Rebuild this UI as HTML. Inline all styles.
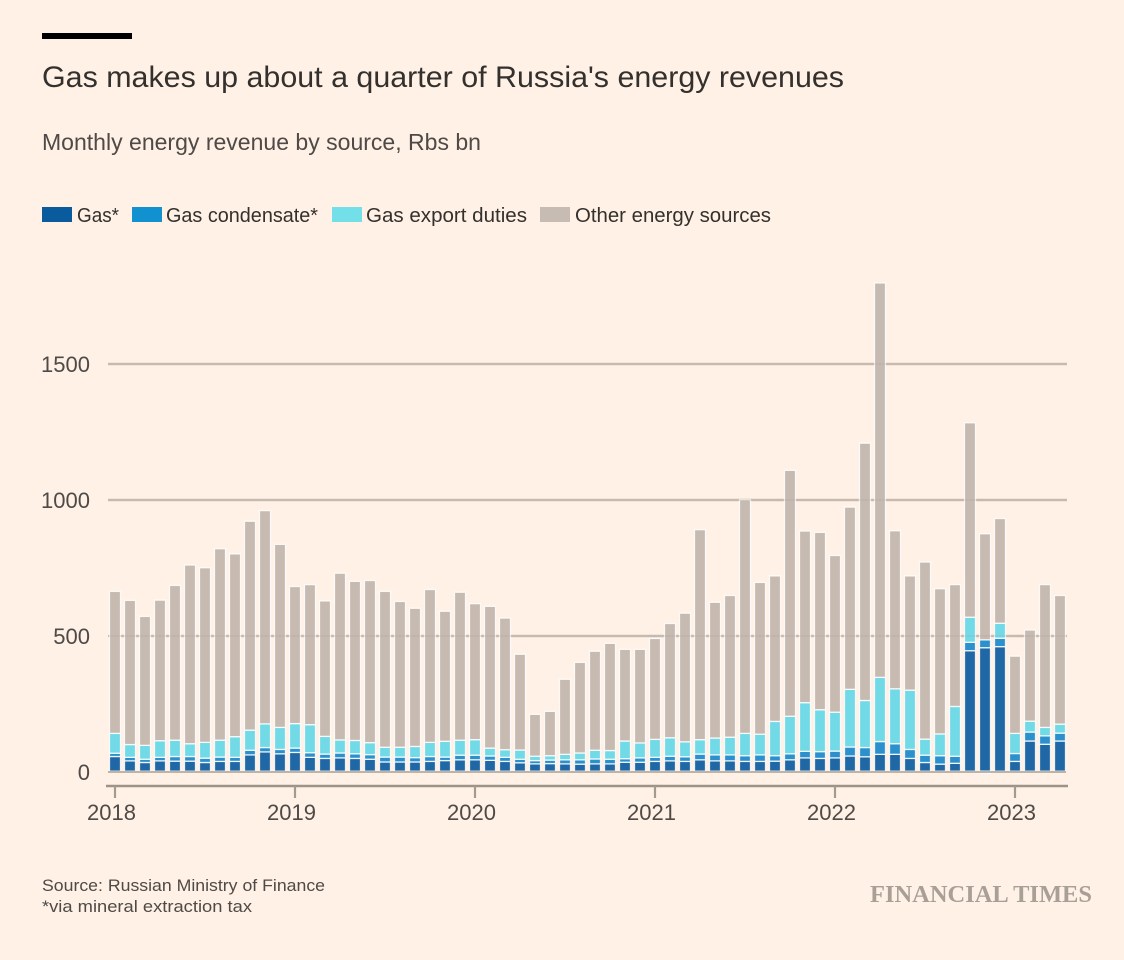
<!DOCTYPE html>
<html lang="en">
<head>
<meta charset="utf-8">
<title>Gas makes up about a quarter of Russia's energy revenues</title>
<style>
  html, body { margin: 0; padding: 0; background: #fff1e5; }
  svg { display: block; font-family: "Liberation Sans", sans-serif; }
</style>
</head>
<body>
<svg id="chart" xmlns="http://www.w3.org/2000/svg" width="1124" height="960" viewBox="0 0 1124 960">
  <rect x="0" y="0" width="1124" height="960" fill="#fff1e5"/>
  <rect x="42" y="33" width="90" height="6" fill="#000"/>
  <text x="42" y="87" font-size="30" fill="#33302e" textLength="802" lengthAdjust="spacingAndGlyphs">Gas makes up about a quarter of Russia's energy revenues</text>
  <text x="42" y="150" font-size="23" fill="#4f4a47" textLength="439" lengthAdjust="spacingAndGlyphs">Monthly energy revenue by source, Rbs bn</text>

  <g>
    <rect x="42" y="207" width="30" height="15" fill="#0a5a9e"/>
    <text x="77" y="222" font-size="20" fill="#33302e" textLength="42" lengthAdjust="spacingAndGlyphs">Gas*</text>
    <rect x="132" y="207" width="30" height="15" fill="#1191d0"/>
    <text x="166" y="222" font-size="20" fill="#33302e" textLength="152" lengthAdjust="spacingAndGlyphs">Gas condensate*</text>
    <rect x="332" y="207" width="30" height="15" fill="#73dfe9"/>
    <text x="366" y="222" font-size="20" fill="#33302e" textLength="161" lengthAdjust="spacingAndGlyphs">Gas export duties</text>
    <rect x="540" y="207" width="30" height="15" fill="#c7bcb3"/>
    <text x="575" y="222" font-size="20" fill="#33302e" textLength="196" lengthAdjust="spacingAndGlyphs">Other energy sources</text>
  </g>

  <g id="grid"></g>
  <g id="bars"></g>
  <g id="grid-over"></g>
  <g id="y-axis"></g>
  <g id="x-axis"></g>

  <text x="42" y="891" font-size="16.5" fill="#4f4a47" textLength="283" lengthAdjust="spacingAndGlyphs">Source: Russian Ministry of Finance</text>
  <text x="42" y="912" font-size="16.5" fill="#4f4a47" textLength="210" lengthAdjust="spacingAndGlyphs">*via mineral extraction tax</text>
  <text x="870" y="902" font-size="24" font-weight="700" fill="#a89f96" textLength="222" lengthAdjust="spacingAndGlyphs" style="font-family:'Liberation Serif',serif">FINANCIAL TIMES</text>
</svg>

<script>
const categories = [
  "2018-01","2018-02","2018-03","2018-04","2018-05","2018-06","2018-07","2018-08","2018-09","2018-10","2018-11","2018-12",
  "2019-01","2019-02","2019-03","2019-04","2019-05","2019-06","2019-07","2019-08","2019-09","2019-10","2019-11","2019-12",
  "2020-01","2020-02","2020-03","2020-04","2020-05","2020-06","2020-07","2020-08","2020-09","2020-10","2020-11","2020-12",
  "2021-01","2021-02","2021-03","2021-04","2021-05","2021-06","2021-07","2021-08","2021-09","2021-10","2021-11","2021-12",
  "2022-01","2022-02","2022-03","2022-04","2022-05","2022-06","2022-07","2022-08","2022-09","2022-10","2022-11","2022-12",
  "2023-01","2023-02","2023-03","2023-04"
];
const gas = [
  54,38,32,38,37,37,32,36,36,60,71,64,
  69,51,47,49,47,44,34,34,34,36,39,42,
  42,40,36,31,27,28,27,26,27,27,33,33,
  36,38,36,42,38,38,36,36,37,42,49,47,
  49,56,53,62,62,47,32,26,29,443,454,458,
  36,111,99,111
];
const condensate = [
  12,13,12,13,17,17,16,16,15,17,16,16,
  16,17,16,18,17,17,18,18,16,18,13,17,
  17,16,15,13,12,13,15,16,18,17,13,16,
  15,17,17,21,22,22,21,24,20,22,24,25,
  25,33,34,47,39,33,27,31,26,31,29,31,
  29,33,31,29
];
const exportDuties = [
  73,47,51,61,60,47,58,62,76,74,87,81,
  90,103,65,48,49,44,36,36,41,52,58,55,
  57,29,28,34,16,16,20,25,32,32,65,55,
  66,68,55,53,62,65,82,76,126,138,179,154,
  143,212,173,236,202,218,59,80,183,92,-8,55,
  74,40,31,33
];
const otherSources = [
  522,530,474,517,569,657,642,704,672,768,784,673,
  504,515,498,613,585,596,573,536,508,562,478,544,
  500,521,484,352,154,163,276,333,364,394,337,344,
  371,420,473,772,499,521,859,558,535,904,631,652,
  576,670,946,1450,581,420,651,534,448,715,390,385,
  284,335,525,473
];
const yTickValues = [0, 500, 1000, 1500];
const yearTicks = ["2018", "2019", "2020", "2021", "2022", "2023"];

const NS = "http://www.w3.org/2000/svg";
const xFirst = 115, xStep = 15, barWidth = 11;
const yZero = 772, pxPerUnit = 0.272, barLift = 0.8;
function xScale(i) { return xFirst + i * xStep; }
function yScale(v) { return yZero - v * pxPerUnit; }
function yBar(v) { return yScale(v) - barLift; }
function make(tag, attrs, parent) {
  const el = document.createElementNS(NS, tag);
  for (const k in attrs) el.setAttribute(k, attrs[k]);
  parent.appendChild(el);
  return el;
}

const gridG = document.getElementById("grid");
const gridOverG = document.getElementById("grid-over");
const yAxisG = document.getElementById("y-axis");
yTickValues.forEach(function (v) {
  const yy = yScale(v);
  if (v !== 0) {
    const line = make("line", { x1: 108, x2: 1067, y1: yy, y2: yy, stroke: "#cdbfb4", "stroke-width": 2.6 }, gridG);
    
    
    const over = make("line", { x1: 108, x2: 1067, y1: yy, y2: yy, stroke: "#a89d93", "stroke-width": 1.6, "stroke-opacity": 0.22 }, gridOverG);
    
    
  }
  const label = make("text", { x: 90, y: yy + 8, "text-anchor": "end", "font-size": 22, fill: "#4f4a47" }, yAxisG);
  
  
  label.textContent = String(v);
});

const barsG = document.getElementById("bars");
const seriesList = [
  { name: "gas", values: gas, color: "#1f67a5" },
  { name: "gas-condensate", values: condensate, color: "#2b90cc" },
  { name: "gas-export-duties", values: exportDuties, color: "#72d9e7" },
  { name: "other-energy-sources", values: otherSources, color: "#c6bab1" }
];
categories.forEach(function (cat, i) {
  let up = 0, down = 0;
  seriesList.forEach(function (s) {
    const v = s.values[i];
    let y0, y1;
    if (v >= 0) { y0 = up; y1 = up + v; up = y1; }
    else { y0 = down; y1 = down + v; down = y1; }
    const top = yBar(Math.max(y0, y1));
    const bottom = yBar(Math.min(y0, y1));
    const bar = make("rect", {
      x: xScale(i) - barWidth / 2, y: top, width: barWidth, height: bottom - top,
      fill: s.color, stroke: "#ffffff", "stroke-opacity": 0.85, "stroke-width": 1.3
    }, barsG);
    
    
  });
});

const xAxisG = document.getElementById("x-axis");
const zeroLine = make("line", { x1: 108, x2: 1066, y1: yZero, y2: yZero, stroke: "#bdb3a9", "stroke-width": 2 }, xAxisG);


const axisLine = make("line", { x1: 106, x2: 1068, y1: 786, y2: 786, stroke: "#9e9389", "stroke-width": 2.4 }, xAxisG);


yearTicks.forEach(function (yr) {
  const i = categories.indexOf(yr + "-01");
  const tx = xScale(i);
  const tick = make("line", { x1: tx, x2: tx, y1: 786, y2: 798, stroke: "#a39a90", "stroke-width": 2.2 }, xAxisG);
  
  
  const label = make("text", { x: tx - 3.5, y: 820, "text-anchor": "middle", "font-size": 22, fill: "#4f4a47" }, xAxisG);
  
  
  label.textContent = yr;
});
</script>
</body>
</html>
